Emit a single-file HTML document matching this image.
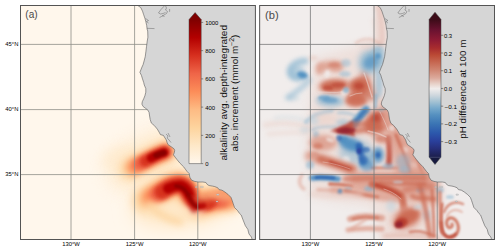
<!DOCTYPE html><html><head><meta charset="utf-8"><style>html,body{margin:0;padding:0;background:#fff;}svg{display:block;font-family:"Liberation Sans",sans-serif;}</style></head><body>
<svg width="500" height="251" viewBox="0 0 500 251">
<defs>
<filter id="b0_7" filterUnits="userSpaceOnUse" x="0" y="0" width="500" height="251"><feGaussianBlur stdDeviation="0.7"/></filter><filter id="b0_9" filterUnits="userSpaceOnUse" x="0" y="0" width="500" height="251"><feGaussianBlur stdDeviation="0.9"/></filter><filter id="b1" filterUnits="userSpaceOnUse" x="0" y="0" width="500" height="251"><feGaussianBlur stdDeviation="1"/></filter><filter id="b1_1" filterUnits="userSpaceOnUse" x="0" y="0" width="500" height="251"><feGaussianBlur stdDeviation="1.1"/></filter><filter id="b1_2" filterUnits="userSpaceOnUse" x="0" y="0" width="500" height="251"><feGaussianBlur stdDeviation="1.2"/></filter><filter id="b1_3" filterUnits="userSpaceOnUse" x="0" y="0" width="500" height="251"><feGaussianBlur stdDeviation="1.3"/></filter><filter id="b1_4" filterUnits="userSpaceOnUse" x="0" y="0" width="500" height="251"><feGaussianBlur stdDeviation="1.4"/></filter><filter id="b1_5" filterUnits="userSpaceOnUse" x="0" y="0" width="500" height="251"><feGaussianBlur stdDeviation="1.5"/></filter><filter id="b1_6" filterUnits="userSpaceOnUse" x="0" y="0" width="500" height="251"><feGaussianBlur stdDeviation="1.6"/></filter><filter id="b1_8" filterUnits="userSpaceOnUse" x="0" y="0" width="500" height="251"><feGaussianBlur stdDeviation="1.8"/></filter><filter id="b2" filterUnits="userSpaceOnUse" x="0" y="0" width="500" height="251"><feGaussianBlur stdDeviation="2"/></filter><filter id="b2_2" filterUnits="userSpaceOnUse" x="0" y="0" width="500" height="251"><feGaussianBlur stdDeviation="2.2"/></filter><filter id="b2_5" filterUnits="userSpaceOnUse" x="0" y="0" width="500" height="251"><feGaussianBlur stdDeviation="2.5"/></filter><filter id="b3" filterUnits="userSpaceOnUse" x="0" y="0" width="500" height="251"><feGaussianBlur stdDeviation="3"/></filter><filter id="b3_5" filterUnits="userSpaceOnUse" x="0" y="0" width="500" height="251"><feGaussianBlur stdDeviation="3.5"/></filter><filter id="b4" filterUnits="userSpaceOnUse" x="0" y="0" width="500" height="251"><feGaussianBlur stdDeviation="4"/></filter><filter id="b5" filterUnits="userSpaceOnUse" x="0" y="0" width="500" height="251"><feGaussianBlur stdDeviation="5"/></filter><filter id="b6" filterUnits="userSpaceOnUse" x="0" y="0" width="500" height="251"><feGaussianBlur stdDeviation="6"/></filter><filter id="b9" filterUnits="userSpaceOnUse" x="0" y="0" width="500" height="251"><feGaussianBlur stdDeviation="9"/></filter>
<clipPath id="ca"><rect x="20.5" y="5.5" width="235" height="234"/></clipPath>
<clipPath id="cb"><rect x="259.5" y="5.5" width="235" height="234"/></clipPath>
<linearGradient id="orrd" x1="0" y1="1" x2="0" y2="0"><stop offset="0" stop-color="#fff7ec"/><stop offset="0.125" stop-color="#fee8c8"/><stop offset="0.25" stop-color="#fdd49e"/><stop offset="0.375" stop-color="#fdbb84"/><stop offset="0.5" stop-color="#fc8d59"/><stop offset="0.625" stop-color="#ef6548"/><stop offset="0.75" stop-color="#d7301f"/><stop offset="0.875" stop-color="#b30000"/><stop offset="1" stop-color="#7f0000"/></linearGradient>
<linearGradient id="bal" x1="0" y1="1" x2="0" y2="0"><stop offset="0.000" stop-color="#1c1f4c"/><stop offset="0.059" stop-color="#262e78"/><stop offset="0.117" stop-color="#2a409c"/><stop offset="0.175" stop-color="#2c58ac"/><stop offset="0.240" stop-color="#3a74b4"/><stop offset="0.306" stop-color="#5590c0"/><stop offset="0.357" stop-color="#78aacc"/><stop offset="0.407" stop-color="#a8c4d4"/><stop offset="0.451" stop-color="#d0d8de"/><stop offset="0.497" stop-color="#f1edec"/><stop offset="0.531" stop-color="#e8d2ca"/><stop offset="0.574" stop-color="#dcaa9c"/><stop offset="0.633" stop-color="#d08672"/><stop offset="0.691" stop-color="#c66650"/><stop offset="0.741" stop-color="#bb4a35"/><stop offset="0.792" stop-color="#a82c2e"/><stop offset="0.850" stop-color="#8e1b34"/><stop offset="0.923" stop-color="#6a1230"/><stop offset="1.000" stop-color="#3c0c18"/></linearGradient>
<path id="land" d="M137.8,5.5 L140.8,7.6 L142.5,11.2 L143.7,14.8 L144.9,18.3 L145.9,21.9 L146.7,25.5 L147.1,29.1 L147.7,31.0 L147.9,37.2 L147.1,42.0 L146.5,46.7 L145.9,51.5 L145.3,56.3 L144.1,61.0 L143.1,64.6 L142.0,67.0 L140.8,70.0 L139.9,72.3 L141.4,75.3 L142.5,78.9 L143.7,82.5 L144.3,85.0 L145.8,88.6 L145.8,92.2 L144.9,95.8 L143.7,98.7 L142.3,101.7 L141.9,104.1 L143.1,106.5 L145.5,108.3 L147.9,110.1 L149.1,112.5 L149.6,116.0 L150.2,119.6 L151.4,123.1 L154.3,125.5 L157.3,129.1 L159.1,132.1 L160.4,134.6 L163.4,135.4 L166.3,140.0 L167.0,142.3 L168.1,144.7 L171.7,147.1 L174.1,148.9 L174.7,150.7 L174.1,153.1 L173.4,154.8 L175.2,157.2 L177.0,159.6 L179.9,163.1 L183.5,166.7 L185.3,169.1 L187.1,171.5 L189.2,173.6 L189.8,177.2 L191.6,180.2 L194.6,181.4 L198.1,182.0 L202.9,182.0 L205.9,182.5 L207.1,184.3 L208.9,185.5 L212.5,186.1 L214.8,186.6 L217.8,187.8 L219.0,189.6 L222.0,190.2 L224.9,192.0 L227.9,194.3 L230.9,197.3 L232.1,200.3 L233.3,203.9 L234.5,207.5 L237.5,210.5 L239.6,213.5 L241.2,215.0 L243.0,219.8 L245.4,225.8 L247.8,229.3 L249.0,234.0 L251.4,237.0 L252.2,239.5 L256,239.5 L256,5 L137.8,5 Z"/>
</defs>
<g clip-path="url(#ca)">
<rect x="20" y="5" width="236" height="235" fill="#fff7ec"/>
<ellipse cx="150" cy="160" rx="45" ry="24" fill="#fee8c8" opacity="0.9" transform="rotate(-28 150 160)" filter="url(#b9)"/>
<ellipse cx="183" cy="203" rx="52" ry="24" fill="#fee8c8" opacity="1" transform="rotate(-8 183 203)" filter="url(#b9)"/>
<ellipse cx="118" cy="158" rx="18" ry="12" fill="#fee8c8" opacity="0.6" transform="rotate(-20 118 158)" filter="url(#b6)"/>
<path d="M130,169 C142,163 152,157 166,151.5" fill="none" stroke="#fdd49e" stroke-width="20" stroke-linecap="round" stroke-linejoin="round" opacity="1" filter="url(#b5)"/>
<path d="M134,167 C145,161 154,156 166,151.5" fill="none" stroke="#fc8d59" stroke-width="15" stroke-linecap="round" stroke-linejoin="round" opacity="1" filter="url(#b3_5)"/>
<path d="M139,164.5 C147,160 155,155.5 165,152" fill="none" stroke="#ef6548" stroke-width="12" stroke-linecap="round" stroke-linejoin="round" opacity="1" filter="url(#b2_5)"/>
<path d="M145,161.5 C151,158 157,154.5 164.5,152" fill="none" stroke="#d7301f" stroke-width="11" stroke-linecap="round" stroke-linejoin="round" opacity="1" filter="url(#b2)"/>
<path d="M151,158 C155,156 159,154 164,152.5" fill="none" stroke="#b30000" stroke-width="8.5" stroke-linecap="round" stroke-linejoin="round" opacity="1" filter="url(#b1_6)"/>
<path d="M156,155.5 C159,154.5 161,153.5 164,152.8" fill="none" stroke="#7f0000" stroke-width="5.5" stroke-linecap="round" stroke-linejoin="round" opacity="0.8" filter="url(#b1_3)"/>
<path d="M146,200 C158,194 168,184 179,183.5 C187,183.5 189,194 194,203 C198,208 205,202 212,201 C219,200 225,199 231,199" fill="none" stroke="#fdd49e" stroke-width="26" stroke-linecap="round" stroke-linejoin="round" opacity="1" filter="url(#b5)"/>
<path d="M151,197.5 C160,193 168,184.5 179,184 C187,184 189,194 194,203 C198,208 205,202 212,201 C219,200 224,199 229,199" fill="none" stroke="#fc8d59" stroke-width="19" stroke-linecap="round" stroke-linejoin="round" opacity="1" filter="url(#b3_5)"/>
<path d="M157,194.5 C165,190 170,185 179,184.5 C187,184.5 189,194 194,203 C198,207 204,203 210,202 C214,201 218,200 222,200" fill="none" stroke="#ef6548" stroke-width="15" stroke-linecap="round" stroke-linejoin="round" opacity="1" filter="url(#b2_5)"/>
<path d="M162,192 C168,187 173,185 180,185 C186,185.5 189,194 194,203 C197,207 201,204 206,203" fill="none" stroke="#d7301f" stroke-width="15" stroke-linecap="round" stroke-linejoin="round" opacity="1" filter="url(#b2)"/>
<path d="M168,188.5 C173,186 176,185.5 180,185.5 C186,186 189,194 194,203 C196,206 199,205 201,204" fill="none" stroke="#b30000" stroke-width="10" stroke-linecap="round" stroke-linejoin="round" opacity="1" filter="url(#b1_6)"/>
<path d="M176,186 C182,186 186,190 189,196 C191,200 193,204 195,206" fill="none" stroke="#7f0000" stroke-width="4" stroke-linecap="round" stroke-linejoin="round" opacity="0.7" filter="url(#b1_2)"/>
<path d="M150,211 C165,210 180,210 200,213" fill="none" stroke="#fee8c8" stroke-width="10" stroke-linecap="round" stroke-linejoin="round" opacity="1" filter="url(#b4)"/>
<path d="M149,204 C156,213 166,219 180,222" fill="none" stroke="#fdd49e" stroke-width="7" stroke-linecap="round" stroke-linejoin="round" opacity="0.8" filter="url(#b3)"/>
<path d="M193,202 L194,209" fill="none" stroke="#b30000" stroke-width="7" stroke-linecap="round" stroke-linejoin="round" opacity="0.7" filter="url(#b2)"/>
<path d="M192,201 C197,207 204,205 213,202" fill="none" stroke="#d7301f" stroke-width="9" stroke-linecap="round" stroke-linejoin="round" opacity="0.9" filter="url(#b2)"/>
<path d="M191,199 C194,205 198,207 203,205" fill="none" stroke="#b30000" stroke-width="6" stroke-linecap="round" stroke-linejoin="round" opacity="0.9" filter="url(#b1_5)"/>
<path d="M189,196 C191,201 193,205 197,207" fill="none" stroke="#7f0000" stroke-width="4" stroke-linecap="round" stroke-linejoin="round" opacity="0.6" filter="url(#b1_2)"/>
<path d="M200,197 C210,194 220,194 228,197" fill="none" stroke="#fdbb84" stroke-width="8" stroke-linecap="round" stroke-linejoin="round" opacity="0.8" filter="url(#b3)"/>
<line x1="71" y1="5" x2="71" y2="240" stroke="#8e8e88" stroke-width="0.8"/>
<line x1="134.6" y1="5" x2="134.6" y2="240" stroke="#8e8e88" stroke-width="0.8"/>
<line x1="197.8" y1="5" x2="197.8" y2="240" stroke="#8e8e88" stroke-width="0.8"/>
<line x1="20" y1="44.4" x2="256" y2="44.4" stroke="#8e8e88" stroke-width="0.8"/>
<line x1="20" y1="109.6" x2="256" y2="109.6" stroke="#8e8e88" stroke-width="0.8"/>
<line x1="20" y1="174.6" x2="256" y2="174.6" stroke="#8e8e88" stroke-width="0.8"/>
<use href="#land" fill="#d6d6d6"/>
<path d="M137.8,5.5 L140.8,7.6 L142.5,11.2 L143.7,14.8 L144.9,18.3 L145.9,21.9 L146.7,25.5 L147.1,29.1 L147.7,31.0 L147.9,37.2 L147.1,42.0 L146.5,46.7 L145.9,51.5 L145.3,56.3 L144.1,61.0 L143.1,64.6 L142.0,67.0 L140.8,70.0 L139.9,72.3 L141.4,75.3 L142.5,78.9 L143.7,82.5 L144.3,85.0 L145.8,88.6 L145.8,92.2 L144.9,95.8 L143.7,98.7 L142.3,101.7 L141.9,104.1 L143.1,106.5 L145.5,108.3 L147.9,110.1 L149.1,112.5 L149.6,116.0 L150.2,119.6 L151.4,123.1 L154.3,125.5 L157.3,129.1 L159.1,132.1 L160.4,134.6 L163.4,135.4 L166.3,140.0 L167.0,142.3 L168.1,144.7 L171.7,147.1 L174.1,148.9 L174.7,150.7 L174.1,153.1 L173.4,154.8 L175.2,157.2 L177.0,159.6 L179.9,163.1 L183.5,166.7 L185.3,169.1 L187.1,171.5 L189.2,173.6 L189.8,177.2 L191.6,180.2 L194.6,181.4 L198.1,182.0 L202.9,182.0 L205.9,182.5 L207.1,184.3 L208.9,185.5 L212.5,186.1 L214.8,186.6 L217.8,187.8 L219.0,189.6 L222.0,190.2 L224.9,192.0 L227.9,194.3 L230.9,197.3 L232.1,200.3 L233.3,203.9 L234.5,207.5 L237.5,210.5 L239.6,213.5 L241.2,215.0 L243.0,219.8 L245.4,225.8 L247.8,229.3 L249.0,234.0 L251.4,237.0 L252.2,239.5" fill="none" stroke="#5a5a5a" stroke-width="0.6"/>
<path d="M164.5,5.8 L161,9.5 L158.5,12.9 L160.5,14 L163,13.5 L165.5,12.5" fill="none" stroke="#5a5a5a" stroke-width="0.45"/>
<path d="M165.5,5.8 L166.5,8 L165.5,10 L167.5,11.5 L166.5,13.5 L164,15 L161.5,16.5 L159.5,17.5" fill="none" stroke="#5a5a5a" stroke-width="0.45"/>
<path d="M169.6,9 L169.6,11.8" fill="none" stroke="#5a5a5a" stroke-width="0.45"/>
<path d="M162,15.5 L164.5,16.5" fill="none" stroke="#5a5a5a" stroke-width="0.45"/>
<path d="M145.5,18.5 L148.5,20.5 L146.5,21.5 L148.5,23" fill="none" stroke="#5a5a5a" stroke-width="0.45"/>
<path d="M147,28.3 L154.5,28.6" fill="none" stroke="#5a5a5a" stroke-width="0.45"/>
<path d="M166,134 L168,136 L167.2,138 L169,140 L171,142.5" fill="none" stroke="#5a5a5a" stroke-width="0.45"/>
<path d="M168,133 L170,137" fill="none" stroke="#5a5a5a" stroke-width="0.45"/>
<rect x="195.1" y="186.4" width="2.2" height="1.2" rx="0.5" fill="#d6d6d6" stroke="#9a9a9a" stroke-width="0.3"/><rect x="200.2" y="186.4" width="3.2" height="1.2" rx="0.5" fill="#d6d6d6" stroke="#9a9a9a" stroke-width="0.3"/><rect x="216.5" y="194" width="2.6" height="1.3" rx="0.5" fill="#d6d6d6" stroke="#9a9a9a" stroke-width="0.3"/><rect x="216" y="200.9" width="2" height="1.1" rx="0.5" fill="#d6d6d6" stroke="#9a9a9a" stroke-width="0.3"/>
</g>
<rect x="20.5" y="5.5" width="234.9" height="234" fill="none" stroke="#545454" stroke-width="1"/>
<path d="M189,20.6 L189,19.6 L195.1,12.6 L201.2,19.6 L201.2,20.6 Z" fill="#7f0000"/>
<rect x="189" y="19.6" width="12.2" height="144" fill="url(#orrd)"/>
<path d="M189,163.6 L189,19.6 L195.1,12.6 L201.2,19.6 L201.2,163.6 Z" fill="none" stroke="#444" stroke-width="0.5"/>
<line x1="201.2" y1="163.60" x2="203.2" y2="163.60" stroke="#333" stroke-width="0.5"/>
<text x="205.2" y="166.20" font-size="5.7" fill="#000" textLength="3.31" lengthAdjust="spacingAndGlyphs">0</text>
<line x1="201.2" y1="135.36" x2="203.2" y2="135.36" stroke="#333" stroke-width="0.5"/>
<text x="205.2" y="137.96" font-size="5.7" fill="#000" textLength="9.92" lengthAdjust="spacingAndGlyphs">200</text>
<line x1="201.2" y1="107.12" x2="203.2" y2="107.12" stroke="#333" stroke-width="0.5"/>
<text x="205.2" y="109.72" font-size="5.7" fill="#000" textLength="9.92" lengthAdjust="spacingAndGlyphs">400</text>
<line x1="201.2" y1="78.88" x2="203.2" y2="78.88" stroke="#333" stroke-width="0.5"/>
<text x="205.2" y="81.48" font-size="5.7" fill="#000" textLength="9.92" lengthAdjust="spacingAndGlyphs">600</text>
<line x1="201.2" y1="50.64" x2="203.2" y2="50.64" stroke="#333" stroke-width="0.5"/>
<text x="205.2" y="53.24" font-size="5.7" fill="#000" textLength="9.92" lengthAdjust="spacingAndGlyphs">800</text>
<line x1="201.2" y1="22.40" x2="203.2" y2="22.40" stroke="#333" stroke-width="0.5"/>
<text x="205.2" y="25.00" font-size="5.7" fill="#000" textLength="13.23" lengthAdjust="spacingAndGlyphs">1000</text>
<g transform="translate(226.8,92.8) rotate(-90)"><text x="0" y="0" text-anchor="middle" font-size="9.1" fill="#111" textLength="135.5" lengthAdjust="spacingAndGlyphs">alkalinity avg. depth-integrated</text></g>
<g transform="translate(237.7,93.1) rotate(-90)"><text x="0" y="0" text-anchor="middle" font-size="9.1" fill="#111" textLength="117" lengthAdjust="spacingAndGlyphs">abs. increment (mmol m<tspan dy="-3.4" font-size="6.3">−2</tspan><tspan dy="3.4">)</tspan></text></g>
<text x="25.3" y="18.3" font-size="11" fill="#4a4a4a" textLength="12.3" lengthAdjust="spacingAndGlyphs">(a)</text>
<text x="18.4" y="46.00" font-size="5.8" fill="#000" text-anchor="end" textLength="13.10" lengthAdjust="spacingAndGlyphs">45°N</text>
<text x="18.4" y="111.20" font-size="5.8" fill="#000" text-anchor="end" textLength="13.10" lengthAdjust="spacingAndGlyphs">40°N</text>
<text x="18.4" y="176.20" font-size="5.8" fill="#000" text-anchor="end" textLength="13.10" lengthAdjust="spacingAndGlyphs">35°N</text>
<text x="71.00" y="246" font-size="5.8" fill="#000" text-anchor="middle" textLength="17.66" lengthAdjust="spacingAndGlyphs">130°W</text>
<text x="134.60" y="246" font-size="5.8" fill="#000" text-anchor="middle" textLength="17.66" lengthAdjust="spacingAndGlyphs">125°W</text>
<text x="197.80" y="246" font-size="5.8" fill="#000" text-anchor="middle" textLength="17.66" lengthAdjust="spacingAndGlyphs">120°W</text>
<g clip-path="url(#cb)">
<rect x="259" y="5" width="236" height="235" fill="#f1edec"/>
<path d="M314,58 L372,42 L386,46 L388,100 L440,180 L440,240 L380,240 L372,206 L340,202 L310,196 L306,140 L310,100 Z" fill="#ead0c8" opacity="0.45" filter="url(#b5)"/>
<path d="M265,125 C280,122 295,123 312,128" fill="none" stroke="#ead0c8" stroke-width="5" stroke-linecap="round" stroke-linejoin="round" opacity="0.55" filter="url(#b2)"/>
<path d="M268,134 C285,133 300,131 314,134" fill="none" stroke="#ead0c8" stroke-width="4" stroke-linecap="round" stroke-linejoin="round" opacity="0.5" filter="url(#b2)"/>
<path d="M275,118 C285,116 295,117 305,120" fill="none" stroke="#c2d4de" stroke-width="3" stroke-linecap="round" stroke-linejoin="round" opacity="0.4" filter="url(#b2)"/>
<ellipse cx="292" cy="98" rx="8" ry="3" fill="#c2d4de" opacity="0.6" transform="rotate(0 292 98)" filter="url(#b2)"/>
<ellipse cx="297" cy="72" rx="8" ry="7" fill="#8ab6d0" opacity="0.55" transform="rotate(0 297 72)" filter="url(#b2_5)"/>
<path d="M305,61 C297,61 290,66 290,72 C291,78 297,79 303,77" fill="none" stroke="#8ab6d0" stroke-width="7" stroke-linecap="round" stroke-linejoin="round" opacity="0.65" filter="url(#b2)"/>
<ellipse cx="302.5" cy="75" rx="5.5" ry="3.2" fill="#4a8cc0" opacity="0.9" transform="rotate(15 302.5 75)" filter="url(#b1_6)"/>
<path d="M309,80 C304,87 297,91 289,97" fill="none" stroke="#8ab6d0" stroke-width="6" stroke-linecap="round" stroke-linejoin="round" opacity="0.5" filter="url(#b2_2)"/>
<ellipse cx="330" cy="66" rx="13" ry="5" fill="#dea090" opacity="0.9" transform="rotate(-3 330 66)" filter="url(#b2_5)"/>
<ellipse cx="320" cy="69" rx="4" ry="6" fill="#dea090" opacity="0.85" transform="rotate(15 320 69)" filter="url(#b2)"/>
<ellipse cx="337" cy="67" rx="6" ry="5" fill="#dea090" opacity="0.8" transform="rotate(0 337 67)" filter="url(#b2)"/>
<ellipse cx="334" cy="65" rx="6" ry="2.5" fill="#cc6a52" opacity="0.45" transform="rotate(0 334 65)" filter="url(#b1_5)"/>
<ellipse cx="327.5" cy="75" rx="2.5" ry="5" fill="#f1edec" opacity="0.9" transform="rotate(0 327.5 75)" filter="url(#b1_5)"/>
<ellipse cx="346" cy="63" rx="5" ry="4" fill="#8ab6d0" opacity="0.45" transform="rotate(0 346 63)" filter="url(#b1_8)"/>
<ellipse cx="345" cy="74" rx="6" ry="3" fill="#8ab6d0" opacity="0.5" transform="rotate(0 345 74)" filter="url(#b1_8)"/>
<ellipse cx="313" cy="58" rx="5" ry="3" fill="#ead0c8" opacity="0.6" transform="rotate(0 313 58)" filter="url(#b1_5)"/>
<ellipse cx="335" cy="86" rx="17" ry="7.5" fill="#dea090" opacity="0.95" transform="rotate(-3 335 86)" filter="url(#b2_5)"/>
<ellipse cx="334" cy="86" rx="13" ry="5.5" fill="#cc6a52" opacity="0.95" transform="rotate(-3 334 86)" filter="url(#b2)"/>
<ellipse cx="338" cy="85" rx="7" ry="2.5" fill="#b83a2c" opacity="0.45" transform="rotate(-3 338 85)" filter="url(#b1_3)"/>
<ellipse cx="328" cy="88" rx="5" ry="2.5" fill="#b83a2c" opacity="0.5" transform="rotate(0 328 88)" filter="url(#b1_3)"/>
<ellipse cx="345" cy="93" rx="4" ry="3" fill="#f1edec" opacity="0.8" transform="rotate(0 345 93)" filter="url(#b1_2)"/>
<path d="M365,68 L377,100 L346,100 Z" fill="#cc6a52" opacity="0.8" filter="url(#b3)"/>
<ellipse cx="359" cy="86" rx="10" ry="8" fill="#cc6a52" opacity="0.95" transform="rotate(0 359 86)" filter="url(#b2)"/>
<ellipse cx="359" cy="86" rx="5" ry="3.5" fill="#b83a2c" opacity="0.65" transform="rotate(0 359 86)" filter="url(#b1_5)"/>
<ellipse cx="356" cy="99" rx="8" ry="5" fill="#cc6a52" opacity="0.6" transform="rotate(0 356 99)" filter="url(#b2)"/>
<ellipse cx="346" cy="90" rx="3" ry="3" fill="#8ab6d0" opacity="0.8" transform="rotate(0 346 90)" filter="url(#b1_2)"/>
<ellipse cx="324" cy="98" rx="6" ry="2.5" fill="#4a8cc0" opacity="0.7" transform="rotate(0 324 98)" filter="url(#b1_3)"/>
<ellipse cx="372" cy="61" rx="14" ry="12" fill="#8ab6d0" opacity="0.85" transform="rotate(-35 372 61)" filter="url(#b3)"/>
<ellipse cx="378" cy="50" rx="6" ry="5" fill="#8ab6d0" opacity="0.6" transform="rotate(0 378 50)" filter="url(#b2)"/>
<ellipse cx="371" cy="62" rx="8" ry="6" fill="#4a8cc0" opacity="0.6" transform="rotate(-35 371 62)" filter="url(#b2)"/>
<ellipse cx="378" cy="56" rx="3" ry="3" fill="#4a8cc0" opacity="0.6" transform="rotate(0 378 56)" filter="url(#b1_2)"/>
<ellipse cx="379" cy="84" rx="4" ry="15" fill="#8ab6d0" opacity="0.6" transform="rotate(0 379 84)" filter="url(#b2)"/>
<path d="M379,6 C381,16 382,28 382,42" fill="none" stroke="#dea090" stroke-width="8" stroke-linecap="round" stroke-linejoin="round" opacity="0.45" filter="url(#b2_5)"/>
<path d="M374,20 C376,28 377,36 376,44" fill="none" stroke="#ead0c8" stroke-width="4" stroke-linecap="round" stroke-linejoin="round" opacity="0.5" filter="url(#b2)"/>
<path d="M356,43 C365,37 372,38 380,44" fill="none" stroke="#dea090" stroke-width="3" stroke-linecap="round" stroke-linejoin="round" opacity="0.4" filter="url(#b1_5)"/>
<ellipse cx="367" cy="46" rx="8" ry="4" fill="#ead0c8" opacity="0.5" transform="rotate(0 367 46)" filter="url(#b2)"/>
<ellipse cx="330" cy="101" rx="14" ry="5.5" fill="#8ab6d0" opacity="0.75" transform="rotate(3 330 101)" filter="url(#b2_5)"/>
<ellipse cx="330" cy="100" rx="8" ry="3" fill="#4a8cc0" opacity="0.55" transform="rotate(3 330 100)" filter="url(#b1_8)"/>
<ellipse cx="356" cy="101" rx="11" ry="6" fill="#cc6a52" opacity="0.85" transform="rotate(0 356 101)" filter="url(#b2)"/>
<path d="M354,124 C358,119 362,114 366,110" fill="none" stroke="#4a8cc0" stroke-width="8" stroke-linecap="round" stroke-linejoin="round" opacity="0.9" filter="url(#b1_8)"/>
<path d="M356,121 C359,117 362,114 365,111" fill="none" stroke="#2c62b0" stroke-width="3" stroke-linecap="round" stroke-linejoin="round" opacity="0.5" filter="url(#b1_2)"/>
<path d="M376,95 L375.5,108" fill="none" stroke="#8ab6d0" stroke-width="3" stroke-linecap="round" stroke-linejoin="round" opacity="0.8" filter="url(#b1_2)"/>
<path d="M306,122 C312,116 320,112 332,111" fill="none" stroke="#8ab6d0" stroke-width="4" stroke-linecap="round" stroke-linejoin="round" opacity="0.55" filter="url(#b1_5)"/>
<path d="M312,130 C318,126 326,126 336,127" fill="none" stroke="#8ab6d0" stroke-width="3" stroke-linecap="round" stroke-linejoin="round" opacity="0.5" filter="url(#b1_5)"/>
<path d="M338,113 C344,112 350,113 356,116" fill="none" stroke="#8ab6d0" stroke-width="3" stroke-linecap="round" stroke-linejoin="round" opacity="0.5" filter="url(#b1_5)"/>
<ellipse cx="325" cy="119" rx="13" ry="6" fill="#ead0c8" opacity="0.6" transform="rotate(0 325 119)" filter="url(#b3)"/>
<ellipse cx="314" cy="121" rx="5" ry="4" fill="#c2d4de" opacity="0.7" transform="rotate(0 314 121)" filter="url(#b2)"/>
<ellipse cx="343" cy="123" rx="7" ry="4" fill="#8ab6d0" opacity="0.5" transform="rotate(0 343 123)" filter="url(#b2)"/>
<ellipse cx="305" cy="130" rx="5" ry="3" fill="#c2d4de" opacity="0.6" transform="rotate(0 305 130)" filter="url(#b2)"/>
<ellipse cx="377" cy="123" rx="11" ry="13" fill="#cc6a52" opacity="0.8" transform="rotate(0 377 123)" filter="url(#b3)"/>
<ellipse cx="377" cy="121" rx="13" ry="7" fill="#cc6a52" opacity="0.95" transform="rotate(-30 377 121)" filter="url(#b2_5)"/>
<ellipse cx="379" cy="118" rx="6" ry="3" fill="#b83a2c" opacity="0.5" transform="rotate(-30 379 118)" filter="url(#b1_5)"/>
<ellipse cx="378" cy="118" rx="7" ry="5" fill="#b83a2c" opacity="0.6" transform="rotate(-30 378 118)" filter="url(#b2)"/>
<path d="M356,131 C366,130 376,128 386,125" fill="none" stroke="#cc6a52" stroke-width="6" stroke-linecap="round" stroke-linejoin="round" opacity="0.8" filter="url(#b2)"/>
<path d="M385,106 C388,120 395,132 402,146" fill="none" stroke="#dea090" stroke-width="10" stroke-linecap="round" stroke-linejoin="round" opacity="0.7" filter="url(#b3)"/>
<ellipse cx="382" cy="110" rx="3" ry="2" fill="#8ab6d0" opacity="0.6" transform="rotate(0 382 110)" filter="url(#b1)"/>
<path d="M330,131 L353,121 L355,137 Z" fill="#b83a2c" opacity="0.85" filter="url(#b1_8)"/>
<ellipse cx="346" cy="130.5" rx="10" ry="3.2" fill="#8e1b2e" opacity="0.85" transform="rotate(-5 346 130.5)" filter="url(#b1_4)"/>
<path d="M352,125 C360,124 368,124 376,123" fill="none" stroke="#cc6a52" stroke-width="6" stroke-linecap="round" stroke-linejoin="round" opacity="0.75" filter="url(#b2)"/>
<ellipse cx="356" cy="152" rx="17" ry="13" fill="#8ab6d0" opacity="0.55" transform="rotate(0 356 152)" filter="url(#b3)"/>
<ellipse cx="350" cy="144" rx="13" ry="6.5" fill="#4a8cc0" opacity="0.9" transform="rotate(22 350 144)" filter="url(#b2_2)"/>
<ellipse cx="343" cy="139" rx="5" ry="3" fill="#4a8cc0" opacity="0.7" transform="rotate(0 343 139)" filter="url(#b1_5)"/>
<path d="M359,146 C361,151 362,156 363,162" fill="none" stroke="#2c62b0" stroke-width="7" stroke-linecap="round" stroke-linejoin="round" opacity="0.9" filter="url(#b1_6)"/>
<ellipse cx="366" cy="150" rx="4" ry="3" fill="#2c62b0" opacity="0.7" transform="rotate(0 366 150)" filter="url(#b1_3)"/>
<ellipse cx="359" cy="151" rx="2.5" ry="3" fill="#2a3f9c" opacity="0.85" transform="rotate(0 359 151)" filter="url(#b1)"/>
<ellipse cx="368" cy="157" rx="5" ry="6" fill="#8ab6d0" opacity="0.6" transform="rotate(0 368 157)" filter="url(#b2)"/>
<ellipse cx="378" cy="155" rx="6" ry="8" fill="#4a8cc0" opacity="0.8" transform="rotate(0 378 155)" filter="url(#b2)"/>
<ellipse cx="378" cy="155" rx="2.5" ry="3" fill="#2c62b0" opacity="0.8" transform="rotate(0 378 155)" filter="url(#b1_2)"/>
<ellipse cx="316" cy="135" rx="3" ry="4" fill="#8ab6d0" opacity="0.6" transform="rotate(0 316 135)" filter="url(#b1_5)"/>
<ellipse cx="339" cy="138" rx="3" ry="3" fill="#2c62b0" opacity="0.6" transform="rotate(0 339 138)" filter="url(#b1_3)"/>
<ellipse cx="346" cy="160" rx="4" ry="4" fill="#f1edec" opacity="0.7" transform="rotate(0 346 160)" filter="url(#b1_5)"/>
<ellipse cx="323" cy="143" rx="14" ry="8" fill="#dea090" opacity="0.9" transform="rotate(0 323 143)" filter="url(#b2_5)"/>
<ellipse cx="318" cy="146" rx="5" ry="3" fill="#cc6a52" opacity="0.6" transform="rotate(0 318 146)" filter="url(#b1_5)"/>
<ellipse cx="330" cy="140" rx="4" ry="2" fill="#f1edec" opacity="0.6" transform="rotate(20 330 140)" filter="url(#b1)"/>
<ellipse cx="314" cy="155" rx="5" ry="3" fill="#cc6a52" opacity="0.6" transform="rotate(0 314 155)" filter="url(#b1_5)"/>
<path d="M389,138 C390,148 390,156 389,164" fill="none" stroke="#b83a2c" stroke-width="6" stroke-linecap="round" stroke-linejoin="round" opacity="0.85" filter="url(#b1_8)"/>
<ellipse cx="383" cy="139" rx="9" ry="4" fill="#cc6a52" opacity="0.7" transform="rotate(0 383 139)" filter="url(#b2)"/>
<ellipse cx="403" cy="142" rx="8" ry="5" fill="#dea090" opacity="0.6" transform="rotate(0 403 142)" filter="url(#b2)"/>
<path d="M310,156 C322,159 334,163 352,170" fill="none" stroke="#dea090" stroke-width="11" stroke-linecap="round" stroke-linejoin="round" opacity="0.85" filter="url(#b2_5)"/>
<path d="M320,159 C330,162 340,165 352,169" fill="none" stroke="#cc6a52" stroke-width="7" stroke-linecap="round" stroke-linejoin="round" opacity="0.9" filter="url(#b2)"/>
<path d="M330,162 C336,164 342,166 350,169" fill="none" stroke="#b83a2c" stroke-width="3" stroke-linecap="round" stroke-linejoin="round" opacity="0.6" filter="url(#b1_3)"/>
<ellipse cx="310" cy="165" rx="4" ry="4" fill="#8ab6d0" opacity="0.6" transform="rotate(0 310 165)" filter="url(#b1_5)"/>
<path d="M372,168 C380,168 390,168 398,168" fill="none" stroke="#cc6a52" stroke-width="3" stroke-linecap="round" stroke-linejoin="round" opacity="0.7" filter="url(#b1)"/>
<path d="M383,100 L392,112 L400,128 L408,140 L416,150 L424,160 L432,172 L436,182 L398,184 L394,165 L389,140 L381,118 Z" fill="#dea090" opacity="0.8" filter="url(#b3)"/>
<ellipse cx="398" cy="124" rx="5" ry="4" fill="#cc6a52" opacity="0.75" transform="rotate(0 398 124)" filter="url(#b1_5)"/>
<ellipse cx="405" cy="150" rx="4" ry="3" fill="#f1edec" opacity="0.7" transform="rotate(0 405 150)" filter="url(#b1_5)"/>
<ellipse cx="414" cy="165" rx="4" ry="3" fill="#f1edec" opacity="0.6" transform="rotate(0 414 165)" filter="url(#b1_5)"/>
<ellipse cx="400" cy="175" rx="4" ry="2" fill="#f1edec" opacity="0.6" transform="rotate(0 400 175)" filter="url(#b1_5)"/>
<path d="M396,135 C400,145 405,155 410,172" fill="none" stroke="#cc6a52" stroke-width="3.5" stroke-linecap="round" stroke-linejoin="round" opacity="0.7" filter="url(#b1_2)"/>
<path d="M414,152 C418,160 420,168 424,178" fill="none" stroke="#cc6a52" stroke-width="3" stroke-linecap="round" stroke-linejoin="round" opacity="0.7" filter="url(#b1_2)"/>
<ellipse cx="392" cy="128" rx="3" ry="3" fill="#f1edec" opacity="0.6" transform="rotate(0 392 128)" filter="url(#b1_2)"/>
<path d="M330,184 C336,184 344,185 352,186" fill="none" stroke="#cc6a52" stroke-width="4" stroke-linecap="round" stroke-linejoin="round" opacity="0.8" filter="url(#b1_3)"/>
<path d="M318,190 C328,190 338,191 346,192" fill="none" stroke="#dea090" stroke-width="4" stroke-linecap="round" stroke-linejoin="round" opacity="0.6" filter="url(#b1_5)"/>
<ellipse cx="340" cy="192" rx="3" ry="2.5" fill="#4a8cc0" opacity="0.7" transform="rotate(0 340 192)" filter="url(#b1)"/>
<ellipse cx="415" cy="162" rx="12" ry="18" fill="#dea090" opacity="0.5" transform="rotate(-20 415 162)" filter="url(#b4)"/>
<ellipse cx="403" cy="162" rx="7" ry="8" fill="#8ab6d0" opacity="0.5" transform="rotate(0 403 162)" filter="url(#b2)"/>
<path d="M350,172 L432,172 L440,185 L440,205 L420,203 L400,200 L380,196 L350,190 Z" fill="#dea090" opacity="0.85" filter="url(#b3)"/>
<ellipse cx="367" cy="165" rx="8" ry="6" fill="#4a8cc0" opacity="0.7" transform="rotate(0 367 165)" filter="url(#b2)"/>
<ellipse cx="364" cy="160" rx="4" ry="4" fill="#2c62b0" opacity="0.6" transform="rotate(0 364 160)" filter="url(#b1_5)"/>
<ellipse cx="388" cy="166" rx="6" ry="3" fill="#8ab6d0" opacity="0.6" transform="rotate(0 388 166)" filter="url(#b1_5)"/>
<ellipse cx="405" cy="170" rx="6" ry="4" fill="#8ab6d0" opacity="0.5" transform="rotate(0 405 170)" filter="url(#b1_5)"/>
<path d="M345,179 C360,178 380,177 425,178" fill="none" stroke="#cc6a52" stroke-width="6" stroke-linecap="round" stroke-linejoin="round" opacity="0.75" filter="url(#b2)"/>
<path d="M380,183 C392,184 405,183 425,184" fill="none" stroke="#cc6a52" stroke-width="4" stroke-linecap="round" stroke-linejoin="round" opacity="0.7" filter="url(#b1_5)"/>
<path d="M312,178 C320,177 330,178 338,179" fill="none" stroke="#4a8cc0" stroke-width="5.5" stroke-linecap="round" stroke-linejoin="round" opacity="0.9" filter="url(#b1_6)"/>
<path d="M316,177.5 C322,177 328,177.5 334,178" fill="none" stroke="#2c62b0" stroke-width="3" stroke-linecap="round" stroke-linejoin="round" opacity="0.85" filter="url(#b1)"/>
<ellipse cx="369" cy="189" rx="5" ry="3" fill="#8ab6d0" opacity="0.8" transform="rotate(0 369 189)" filter="url(#b1_5)"/>
<ellipse cx="348" cy="190" rx="4" ry="3" fill="#8ab6d0" opacity="0.7" transform="rotate(0 348 190)" filter="url(#b1_2)"/>
<ellipse cx="398" cy="182" rx="5" ry="1.5" fill="#c2d4de" opacity="0.6" transform="rotate(0 398 182)" filter="url(#b1)"/>
<ellipse cx="420" cy="190" rx="4" ry="2.5" fill="#8ab6d0" opacity="0.55" transform="rotate(0 420 190)" filter="url(#b1_2)"/>
<path d="M333,190 C345,190 355,193 368,195 C378,197 388,198 396,199" fill="none" stroke="#dea090" stroke-width="7" stroke-linecap="round" stroke-linejoin="round" opacity="0.8" filter="url(#b2)"/>
<path d="M345,191 C355,193 365,195 378,197" fill="none" stroke="#cc6a52" stroke-width="3" stroke-linecap="round" stroke-linejoin="round" opacity="0.6" filter="url(#b1_3)"/>
<path d="M372,184 C384,187 394,190 401,195 C403,200 404,207 405,214" fill="none" stroke="#cc6a52" stroke-width="7" stroke-linecap="round" stroke-linejoin="round" opacity="0.9" filter="url(#b1_8)"/>
<path d="M376,185 C386,188 394,191 400,196" fill="none" stroke="#b83a2c" stroke-width="3.5" stroke-linecap="round" stroke-linejoin="round" opacity="0.65" filter="url(#b1_2)"/>
<path d="M405,190 C412,188 420,187 432,186" fill="none" stroke="#cc6a52" stroke-width="6" stroke-linecap="round" stroke-linejoin="round" opacity="0.6" filter="url(#b2)"/>
<path d="M412,196 C418,200 424,197 434,199" fill="none" stroke="#cc6a52" stroke-width="4" stroke-linecap="round" stroke-linejoin="round" opacity="0.65" filter="url(#b1_5)"/>
<ellipse cx="407" cy="218" rx="16" ry="11" fill="#dea090" opacity="0.95" transform="rotate(-25 407 218)" filter="url(#b3)"/>
<ellipse cx="408" cy="217" rx="12" ry="7.5" fill="#cc6a52" opacity="0.95" transform="rotate(-25 408 217)" filter="url(#b2)"/>
<ellipse cx="401" cy="223" rx="7" ry="5" fill="#b83a2c" opacity="0.9" transform="rotate(-20 401 223)" filter="url(#b1_6)"/>
<ellipse cx="399" cy="224.5" rx="4" ry="3" fill="#8e1b2e" opacity="0.85" transform="rotate(-20 399 224.5)" filter="url(#b1_1)"/>
<ellipse cx="391" cy="206" rx="5" ry="6" fill="#c2d4de" opacity="0.6" transform="rotate(0 391 206)" filter="url(#b2)"/>
<ellipse cx="418" cy="207" rx="5" ry="2.5" fill="#c2d4de" opacity="0.6" transform="rotate(-10 418 207)" filter="url(#b1_5)"/>
<ellipse cx="427" cy="215" rx="3" ry="6" fill="#8ab6d0" opacity="0.5" transform="rotate(0 427 215)" filter="url(#b2)"/>
<path d="M350,219 C360,215 370,216 382,218" fill="none" stroke="#dea090" stroke-width="6" stroke-linecap="round" stroke-linejoin="round" opacity="0.9" filter="url(#b1_6)"/>
<path d="M353,219 C362,216 370,217 378,218" fill="none" stroke="#cc6a52" stroke-width="3" stroke-linecap="round" stroke-linejoin="round" opacity="0.6" filter="url(#b1_2)"/>
<path d="M348,230 C358,228 368,228 382,229" fill="none" stroke="#dea090" stroke-width="5" stroke-linecap="round" stroke-linejoin="round" opacity="0.8" filter="url(#b1_6)"/>
<path d="M352,229 L366,219" fill="none" stroke="#dea090" stroke-width="3" stroke-linecap="round" stroke-linejoin="round" opacity="0.6" filter="url(#b1_5)"/>
<path d="M420,186 C424,200 427,215 430,236" fill="none" stroke="#cc6a52" stroke-width="5" stroke-linecap="round" stroke-linejoin="round" opacity="0.7" filter="url(#b1_6)"/>
<path d="M432,190 C433,205 434,220 434,236" fill="none" stroke="#cc6a52" stroke-width="3" stroke-linecap="round" stroke-linejoin="round" opacity="0.7" filter="url(#b1_2)"/>
<path d="M444,212 C447,204 455,200 463,204" fill="none" stroke="#cc6a52" stroke-width="2.5" stroke-linecap="round" stroke-linejoin="round" opacity="0.7" filter="url(#b1)"/>
<path d="M447,216 C450,210 456,208 462,212" fill="none" stroke="#dea090" stroke-width="2" stroke-linecap="round" stroke-linejoin="round" opacity="0.7" filter="url(#b0_9)"/>
<path d="M442,204 C441,214 440,224 442,232 C444,237 452,239 457,233 C460,228 458,220 452,218 C447,217 445,223 448,227 C450,229 453,227 452,224" fill="none" stroke="#cc6a52" stroke-width="3" stroke-linecap="round" stroke-linejoin="round" opacity="0.85" filter="url(#b1)"/>
<path d="M441,222 C441,228 442,233 447,237 C451,238 454,237 456,234" fill="none" stroke="#b83a2c" stroke-width="2.5" stroke-linecap="round" stroke-linejoin="round" opacity="0.7" filter="url(#b0_9)"/>
<ellipse cx="450" cy="197" rx="4" ry="2" fill="#8ab6d0" opacity="0.5" transform="rotate(0 450 197)" filter="url(#b1)"/>
<ellipse cx="440" cy="190" rx="4" ry="3" fill="#8ab6d0" opacity="0.5" transform="rotate(0 440 190)" filter="url(#b1_2)"/>
<path d="M440,192 C440,205 440,220 442,232" fill="none" stroke="#cc6a52" stroke-width="3" stroke-linecap="round" stroke-linejoin="round" opacity="0.6" filter="url(#b1_3)"/>
<path d="M384,236 C400,235 420,236 440,238" fill="none" stroke="#dea090" stroke-width="4" stroke-linecap="round" stroke-linejoin="round" opacity="0.55" filter="url(#b2)"/>
<path d="M410,232 C418,230 426,232 434,236" fill="none" stroke="#cc6a52" stroke-width="3" stroke-linecap="round" stroke-linejoin="round" opacity="0.65" filter="url(#b1_2)"/>
<path d="M364,73 C367,80 369,88 372,97" fill="none" stroke="#f1edec" stroke-width="1.3" stroke-linecap="round" stroke-linejoin="round" opacity="0.45" filter="url(#b0_7)"/>
<path d="M350,96 C354,94 358,93 362,93" fill="none" stroke="#f1edec" stroke-width="1.2" stroke-linecap="round" stroke-linejoin="round" opacity="0.4" filter="url(#b0_7)"/>
<path d="M368,131 C374,132 380,134 386,137" fill="none" stroke="#f1edec" stroke-width="1.3" stroke-linecap="round" stroke-linejoin="round" opacity="0.45" filter="url(#b0_7)"/>
<path d="M380,112 C383,118 386,124 388,130" fill="none" stroke="#f1edec" stroke-width="1" stroke-linecap="round" stroke-linejoin="round" opacity="0.4" filter="url(#b0_7)"/>
<path d="M318,92 C326,92 334,93 342,92" fill="none" stroke="#f1edec" stroke-width="1" stroke-linecap="round" stroke-linejoin="round" opacity="0.4" filter="url(#b0_7)"/>
<path d="M384,189 C390,191 396,194 401,199" fill="none" stroke="#f1edec" stroke-width="1" stroke-linecap="round" stroke-linejoin="round" opacity="0.4" filter="url(#b0_7)"/>
<path d="M323,162 C332,163 342,166 350,169" fill="none" stroke="#f1edec" stroke-width="0.9" stroke-linecap="round" stroke-linejoin="round" opacity="0.35" filter="url(#b0_7)"/>
<path d="M302,175 C298,180 299,186 304,189" fill="none" stroke="#dea090" stroke-width="3.5" stroke-linecap="round" stroke-linejoin="round" opacity="0.55" filter="url(#b1_5)"/>
<path d="M312,194 C325,196 340,197 360,195" fill="none" stroke="#ead0c8" stroke-width="6" stroke-linecap="round" stroke-linejoin="round" opacity="0.6" filter="url(#b2)"/>
<ellipse cx="340" cy="191" rx="2" ry="2" fill="#4a8cc0" opacity="0.7" transform="rotate(0 340 191)" filter="url(#b1)"/>
<line x1="310.4" y1="5" x2="310.4" y2="240" stroke="#7a7a7a" stroke-width="0.8"/>
<line x1="374" y1="5" x2="374" y2="240" stroke="#7a7a7a" stroke-width="0.8"/>
<line x1="437.2" y1="5" x2="437.2" y2="240" stroke="#7a7a7a" stroke-width="0.8"/>
<line x1="259" y1="44.4" x2="495" y2="44.4" stroke="#7a7a7a" stroke-width="0.8"/>
<line x1="259" y1="109.6" x2="495" y2="109.6" stroke="#7a7a7a" stroke-width="0.8"/>
<line x1="259" y1="174.6" x2="495" y2="174.6" stroke="#7a7a7a" stroke-width="0.8"/>
<g transform="translate(239.4,0)">
<use href="#land" fill="#d6d6d6"/>
<path d="M137.8,5.5 L140.8,7.6 L142.5,11.2 L143.7,14.8 L144.9,18.3 L145.9,21.9 L146.7,25.5 L147.1,29.1 L147.7,31.0 L147.9,37.2 L147.1,42.0 L146.5,46.7 L145.9,51.5 L145.3,56.3 L144.1,61.0 L143.1,64.6 L142.0,67.0 L140.8,70.0 L139.9,72.3 L141.4,75.3 L142.5,78.9 L143.7,82.5 L144.3,85.0 L145.8,88.6 L145.8,92.2 L144.9,95.8 L143.7,98.7 L142.3,101.7 L141.9,104.1 L143.1,106.5 L145.5,108.3 L147.9,110.1 L149.1,112.5 L149.6,116.0 L150.2,119.6 L151.4,123.1 L154.3,125.5 L157.3,129.1 L159.1,132.1 L160.4,134.6 L163.4,135.4 L166.3,140.0 L167.0,142.3 L168.1,144.7 L171.7,147.1 L174.1,148.9 L174.7,150.7 L174.1,153.1 L173.4,154.8 L175.2,157.2 L177.0,159.6 L179.9,163.1 L183.5,166.7 L185.3,169.1 L187.1,171.5 L189.2,173.6 L189.8,177.2 L191.6,180.2 L194.6,181.4 L198.1,182.0 L202.9,182.0 L205.9,182.5 L207.1,184.3 L208.9,185.5 L212.5,186.1 L214.8,186.6 L217.8,187.8 L219.0,189.6 L222.0,190.2 L224.9,192.0 L227.9,194.3 L230.9,197.3 L232.1,200.3 L233.3,203.9 L234.5,207.5 L237.5,210.5 L239.6,213.5 L241.2,215.0 L243.0,219.8 L245.4,225.8 L247.8,229.3 L249.0,234.0 L251.4,237.0 L252.2,239.5" fill="none" stroke="#5a5a5a" stroke-width="0.6"/>
<path d="M164.5,5.8 L161,9.5 L158.5,12.9 L160.5,14 L163,13.5 L165.5,12.5" fill="none" stroke="#5a5a5a" stroke-width="0.45"/>
<path d="M165.5,5.8 L166.5,8 L165.5,10 L167.5,11.5 L166.5,13.5 L164,15 L161.5,16.5 L159.5,17.5" fill="none" stroke="#5a5a5a" stroke-width="0.45"/>
<path d="M169.6,9 L169.6,11.8" fill="none" stroke="#5a5a5a" stroke-width="0.45"/>
<path d="M162,15.5 L164.5,16.5" fill="none" stroke="#5a5a5a" stroke-width="0.45"/>
<path d="M145.5,18.5 L148.5,20.5 L146.5,21.5 L148.5,23" fill="none" stroke="#5a5a5a" stroke-width="0.45"/>
<path d="M147,28.3 L154.5,28.6" fill="none" stroke="#5a5a5a" stroke-width="0.45"/>
<path d="M166,134 L168,136 L167.2,138 L169,140 L171,142.5" fill="none" stroke="#5a5a5a" stroke-width="0.45"/>
<path d="M168,133 L170,137" fill="none" stroke="#5a5a5a" stroke-width="0.45"/>
<rect x="195.1" y="186.4" width="2.2" height="1.2" rx="0.5" fill="#d6d6d6" stroke="#9a9a9a" stroke-width="0.3"/><rect x="200.2" y="186.4" width="3.2" height="1.2" rx="0.5" fill="#d6d6d6" stroke="#9a9a9a" stroke-width="0.3"/><rect x="216.5" y="194" width="2.6" height="1.3" rx="0.5" fill="#d6d6d6" stroke="#9a9a9a" stroke-width="0.3"/><rect x="216" y="200.9" width="2" height="1.1" rx="0.5" fill="#d6d6d6" stroke="#9a9a9a" stroke-width="0.3"/>
</g>
</g>
<rect x="259.65" y="5.5" width="234.85" height="234" fill="none" stroke="#545454" stroke-width="1"/>
<path d="M429.1,20.4 L429.1,19.4 L435,12.2 L441,19.4 L441,20.4 Z" fill="#3c0c18"/>
<path d="M429.1,156.1 L429.1,157.1 L435,164.5 L441,157.1 L441,156.1 Z" fill="#171a40"/>
<rect x="429.1" y="19.4" width="11.9" height="137.7" fill="url(#bal)"/>
<path d="M429.1,157.1 L429.1,19.4 L435,12.2 L441,19.4 L441,157.1 L435,164.5 Z" fill="none" stroke="#444" stroke-width="0.5"/>
<line x1="429.3" y1="157.3" x2="440.8" y2="157.3" stroke="#50557e" stroke-width="0.7"/>
<line x1="441" y1="141.60" x2="443.2" y2="141.60" stroke="#333" stroke-width="0.5"/>
<text x="444.5" y="144.20" font-size="5.9" fill="#000" textLength="12.63" lengthAdjust="spacingAndGlyphs">−0.3</text>
<line x1="441" y1="123.88" x2="443.2" y2="123.88" stroke="#333" stroke-width="0.5"/>
<text x="444.5" y="126.48" font-size="5.9" fill="#000" textLength="12.63" lengthAdjust="spacingAndGlyphs">−0.2</text>
<line x1="441" y1="106.16" x2="443.2" y2="106.16" stroke="#333" stroke-width="0.5"/>
<text x="444.5" y="108.76" font-size="5.9" fill="#000" textLength="12.63" lengthAdjust="spacingAndGlyphs">−0.1</text>
<line x1="441" y1="88.44" x2="443.2" y2="88.44" stroke="#333" stroke-width="0.5"/>
<text x="443.9" y="91.04" font-size="5.9" fill="#000" textLength="8.27" lengthAdjust="spacingAndGlyphs">0.0</text>
<line x1="441" y1="70.72" x2="443.2" y2="70.72" stroke="#333" stroke-width="0.5"/>
<text x="443.9" y="73.32" font-size="5.9" fill="#000" textLength="8.27" lengthAdjust="spacingAndGlyphs">0.1</text>
<line x1="441" y1="53.00" x2="443.2" y2="53.00" stroke="#333" stroke-width="0.5"/>
<text x="443.9" y="55.60" font-size="5.9" fill="#000" textLength="8.27" lengthAdjust="spacingAndGlyphs">0.2</text>
<line x1="441" y1="35.28" x2="443.2" y2="35.28" stroke="#333" stroke-width="0.5"/>
<text x="443.9" y="37.88" font-size="5.9" fill="#000" textLength="8.27" lengthAdjust="spacingAndGlyphs">0.3</text>
<g transform="translate(465.9,89.2) rotate(-90)"><text x="0" y="0" text-anchor="middle" font-size="9" fill="#111" textLength="99" lengthAdjust="spacingAndGlyphs">pH difference at 100 m</text></g>
<text x="265.1" y="18.5" font-size="11" fill="#4a4a4a" textLength="13.6" lengthAdjust="spacingAndGlyphs">(b)</text>
<text x="310.40" y="246" font-size="5.8" fill="#000" text-anchor="middle" textLength="17.66" lengthAdjust="spacingAndGlyphs">130°W</text>
<text x="374.00" y="246" font-size="5.8" fill="#000" text-anchor="middle" textLength="17.66" lengthAdjust="spacingAndGlyphs">125°W</text>
<text x="437.20" y="246" font-size="5.8" fill="#000" text-anchor="middle" textLength="17.66" lengthAdjust="spacingAndGlyphs">120°W</text>
</svg></body></html>
